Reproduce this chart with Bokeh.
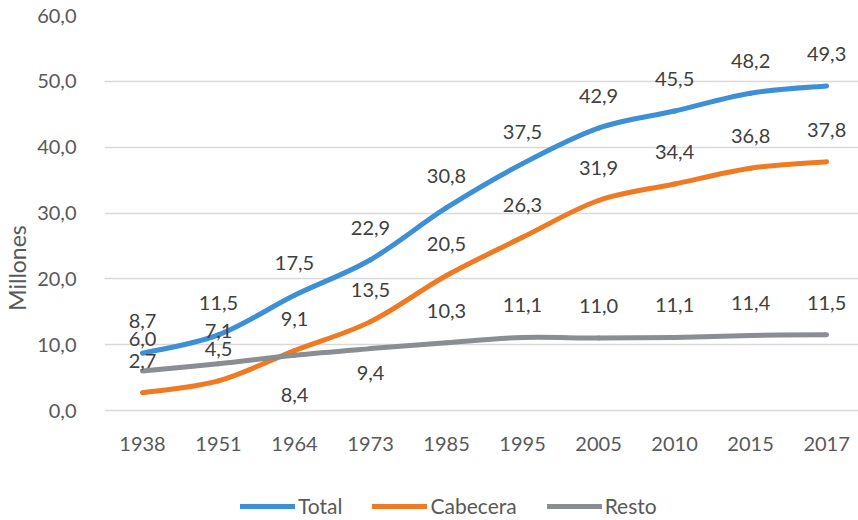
from bokeh.plotting import figure
from bokeh.models import (ColumnDataSource, FixedTicker, Legend, LegendItem,
                          Range1d)
from bokeh.core.properties import value
from bokeh.embed import file_html
from bokeh.resources import INLINE

# Population of Colombia by area (millions)
years = ["1938", "1951", "1964", "1973", "1985", "1995", "2005", "2010", "2015", "2017"]
total = [8.7, 11.5, 17.5, 22.9, 30.8, 37.5, 42.9, 45.5, 48.2, 49.3]
cabecera = [2.7, 4.5, 9.1, 13.5, 20.5, 26.3, 31.9, 34.4, 36.8, 37.8]
resto = [6.0, 7.1, 8.4, 9.4, 10.3, 11.1, 11.0, 11.1, 11.4, 11.5]
y_ticks = [0, 10, 20, 30, 40, 50, 60]

# Label placement (screen pixels, negative = above the point)
total_dy = [-32] * len(years)
cabecera_dy = [-32] * len(years)
resto_dy = [-32, -33, 40, 24, -32, -32, -32, -32, -32, -32]

FONT = "Lato"
TICK_COLOR = "#595959"
LABEL_COLOR = "#404040"

xs = list(range(len(years)))

# The plotting area runs to the bottom edge so that the legend can sit under
# the category axis, which is pinned at y = 0.
PX_PER_UNIT = 395 / 60
y_bottom = -110 / PX_PER_UNIT

p = figure(width=858, height=520, output_backend="svg", toolbar_location=None,
           x_range=Range1d(-0.5, len(years) - 0.58),
           y_range=Range1d(y_bottom, 60),
           min_border_left=104, min_border_right=0, min_border_top=15,
           min_border_bottom=0)
p.outline_line_color = None
p.background_fill_color = "white"
p.border_fill_color = "white"

# grid
p.xgrid.grid_line_color = None
p.ygrid.grid_line_color = "#d9d9d9"
p.ygrid.grid_line_width = 1.5

# x axis
p.xaxis.fixed_location = 0
p.xaxis.ticker = FixedTicker(ticks=xs)
p.xaxis.major_label_overrides = {i: y for i, y in enumerate(years)}
p.xaxis.axis_line_color = None
p.xaxis.major_tick_line_color = None
p.xaxis.minor_tick_line_color = None
p.xaxis.major_label_standoff = 20
p.xaxis.major_label_text_font = FONT
p.xaxis.major_label_text_font_size = "20px"
p.xaxis.major_label_text_color = TICK_COLOR

# y axis
p.yaxis.ticker = FixedTicker(ticks=y_ticks)
p.yaxis.major_label_overrides = {t: f"{t:.1f}".replace(".", ",") for t in y_ticks}
p.yaxis.axis_line_color = None
p.yaxis.major_tick_line_color = None
p.yaxis.minor_tick_line_color = None
p.yaxis.major_label_standoff = 22
p.yaxis.major_label_text_font = FONT
p.yaxis.major_label_text_font_size = "20px"
p.yaxis.major_label_text_color = TICK_COLOR
p.yaxis.axis_label = "Millones"
p.yaxis.axis_label_text_font = FONT
p.yaxis.axis_label_text_font_size = "23px"
p.yaxis.axis_label_text_font_style = "normal"
p.yaxis.axis_label_text_color = TICK_COLOR
p.yaxis.axis_label_standoff = 3


def smooth_source(vals):
    """Cubic Bezier segments through the points (Catmull-Rom style control points)."""
    n = len(vals)
    d = dict(x0=[], y0=[], x1=[], y1=[], cx0=[], cy0=[], cx1=[], cy1=[])
    for i in range(n - 1):
        im1 = max(i - 1, 0)
        ip2 = min(i + 2, n - 1)
        d["x0"].append(xs[i]); d["y0"].append(vals[i])
        d["x1"].append(xs[i + 1]); d["y1"].append(vals[i + 1])
        d["cx0"].append(xs[i] + (xs[i + 1] - xs[im1]) / 6)
        d["cy0"].append(vals[i] + (vals[i + 1] - vals[im1]) / 6)
        d["cx1"].append(xs[i + 1] - (xs[ip2] - xs[i]) / 6)
        d["cy1"].append(vals[i + 1] - (vals[ip2] - vals[i]) / 6)
    return ColumnDataSource(d)


series = [
    ("Total", total, total_dy, "#3d8fd6"),
    ("Cabecera", cabecera, cabecera_dy, "#f07a22"),
    ("Resto", resto, resto_dy, "#8a8d91"),
]

items = []
for name, vals, dy, color in series:
    r = p.bezier(x0="x0", y0="y0", x1="x1", y1="y1", cx0="cx0", cy0="cy0",
                 cx1="cx1", cy1="cy1", source=smooth_source(vals),
                 line_color=color, line_width=5, line_cap="round")
    items.append(LegendItem(label=name, renderers=[r]))

for name, vals, dy, color in series:
    src = ColumnDataSource(dict(
        x=xs, y=vals, dy=dy,
        txt=[f"{v:.1f}".replace(".", ",") for v in vals]))
    p.text(x="x", y="y", text="txt", y_offset="dy", source=src,
           text_align="center", text_baseline="middle",
           text_font=value(FONT), text_font_size="20px", text_color=LABEL_COLOR)

legend = Legend(items=items, orientation="horizontal", location=(136, 2),
                glyph_width=55, glyph_height=20, label_height=20,
                label_standoff=3, spacing=30, padding=0, margin=0,
                border_line_color=None, background_fill_alpha=0,
                label_text_font=FONT, label_text_font_size="21px",
                label_text_color=TICK_COLOR)
p.add_layout(legend, "center")

open("out.html", "w").write(file_html(p, INLINE))
